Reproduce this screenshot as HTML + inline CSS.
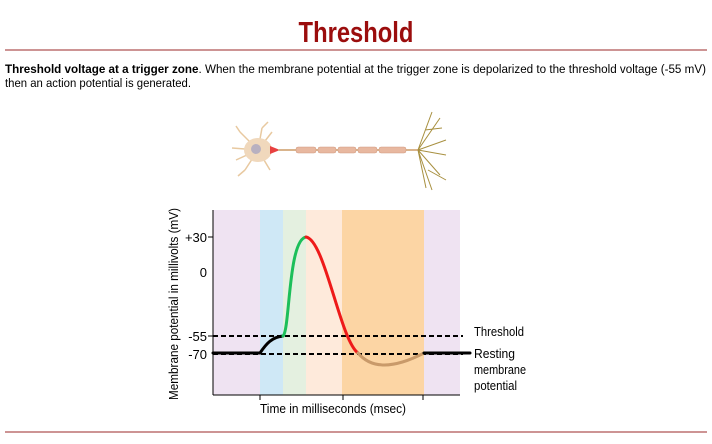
<!DOCTYPE html>
<html><head><style>
body{margin:0;width:712px;height:439px;background:#fff;overflow:hidden;font-family:"Liberation Sans",sans-serif}
</style></head><body>
<svg width="712" height="439" xmlns="http://www.w3.org/2000/svg" font-family="Liberation Sans, sans-serif">
<text x="356" y="42" text-anchor="middle" font-size="29" font-weight="bold" fill="#9b0d0d" transform="translate(356,0) scale(0.82,1) translate(-356,0)">Threshold</text>
<line x1="5" y1="50" x2="707" y2="50" stroke="#9b2a2a" stroke-width="1"/>
<text x="5" y="73" font-size="12.3" fill="#000" textLength="701" lengthAdjust="spacingAndGlyphs"><tspan font-weight="bold">Threshold voltage at a trigger zone</tspan>. When the membrane potential at the trigger zone is depolarized to the threshold voltage (-55 mV)</text>
<text x="5" y="87" font-size="12.3" fill="#000" textLength="186" lengthAdjust="spacingAndGlyphs">then an action potential is generated.</text>
<!-- neuron -->
<g stroke="#e8c9a0" stroke-width="1.5" fill="none">
<path d="M258 150 L240 132 M258 150 L236 160 M258 150 L245 170 M258 150 L262 128 M258 150 L272 132 M258 150 L270 170 M258 150 L232 148 M240 132 L236 126 M245 170 L238 176 M262 128 L268 122"/>
</g>
<ellipse cx="258" cy="150" rx="14" ry="12" fill="#f0d8bc"/>
<circle cx="256" cy="149" r="5" fill="#b8b0c0"/>
<path d="M270 146 L280 150 L270 154 Z" fill="#e84040"/>
<line x1="278" y1="150" x2="418" y2="150" stroke="#d9b48c" stroke-width="2"/>
<g fill="#e8b8a0" stroke="#d09a80" stroke-width="0.5">
<rect x="296" y="147" width="20" height="6" rx="2"/><rect x="318" y="147" width="18" height="6" rx="2"/><rect x="338" y="147" width="18" height="6" rx="2"/><rect x="358" y="147" width="19" height="6" rx="2"/><rect x="379" y="147" width="27" height="6" rx="2"/>
</g>
<g stroke="#a89040" stroke-width="1" fill="none">
<path d="M418 150 L432 112 M418 150 L440 118 M418 150 L446 140 M418 150 L446 155 M418 150 L440 175 M418 150 L432 190 M418 150 L426 188 M425 130 L442 128 M428 170 L446 180"/>
</g>
<!-- chart bands -->
<rect x="213" y="210" width="47" height="185" fill="#efe3f2"/>
<rect x="260" y="210" width="23" height="185" fill="#cfe8f6"/>
<rect x="283" y="210" width="23" height="185" fill="#e4f0e0"/>
<rect x="306" y="210" width="36" height="185" fill="#feeadb"/>
<rect x="342" y="210" width="82" height="185" fill="#fcd5a4"/>
<rect x="424" y="210" width="36" height="185" fill="#efe3f2"/>
<g stroke="#000" stroke-width="1">
<line x1="213" y1="210" x2="213" y2="395"/><line x1="213" y1="395" x2="460" y2="395"/>
<line x1="208" y1="237" x2="213" y2="237"/><line x1="208" y1="336" x2="213" y2="336"/>
<line x1="260" y1="395" x2="260" y2="400"/><line x1="343" y1="395" x2="343" y2="400"/><line x1="423" y1="395" x2="423" y2="400"/>
</g>
<g font-size="13" fill="#000" text-anchor="end">
<text x="207" y="242">+30</text><text x="207" y="277">0</text><text x="207" y="341">-55</text><text x="207" y="359">-70</text>
</g>
<text transform="translate(178,304) rotate(-90)" font-size="13" text-anchor="middle" textLength="192" lengthAdjust="spacingAndGlyphs">Membrane potential in millivolts (mV)</text>
<text x="333" y="413" font-size="13" text-anchor="middle" textLength="146" lengthAdjust="spacingAndGlyphs">Time in milliseconds (msec)</text>
<g stroke="#000" stroke-width="2" stroke-dasharray="5,3">
<line x1="213" y1="336" x2="463" y2="336"/><line x1="213" y1="354" x2="463" y2="354"/>
</g>
<g fill="none" stroke-width="3" stroke-linecap="round">
<path d="M213 353 L260 353 C266 344 272 337 283 336" stroke="#000"/>
<path d="M283 336 C290 330 288 240 306 237" stroke="#1cbf5a"/>
<path d="M306 237 C325 240 340 340 358 353" stroke="#ee1a1a"/>
<path d="M358 353 C372 370 395 368 424 353" stroke="#c99a6a"/>
<path d="M424 353 L470 353" stroke="#000"/>
</g>
<g font-size="13" fill="#000">
<text x="474" y="336" textLength="50" lengthAdjust="spacingAndGlyphs">Threshold</text><text x="474" y="358" textLength="41" lengthAdjust="spacingAndGlyphs">Resting</text><text x="474" y="374" textLength="52" lengthAdjust="spacingAndGlyphs">membrane</text><text x="474" y="390" textLength="43" lengthAdjust="spacingAndGlyphs">potential</text>
</g>
<line x1="5" y1="432" x2="707" y2="432" stroke="#9b2a2a" stroke-width="1"/>
</svg>
</body></html>
